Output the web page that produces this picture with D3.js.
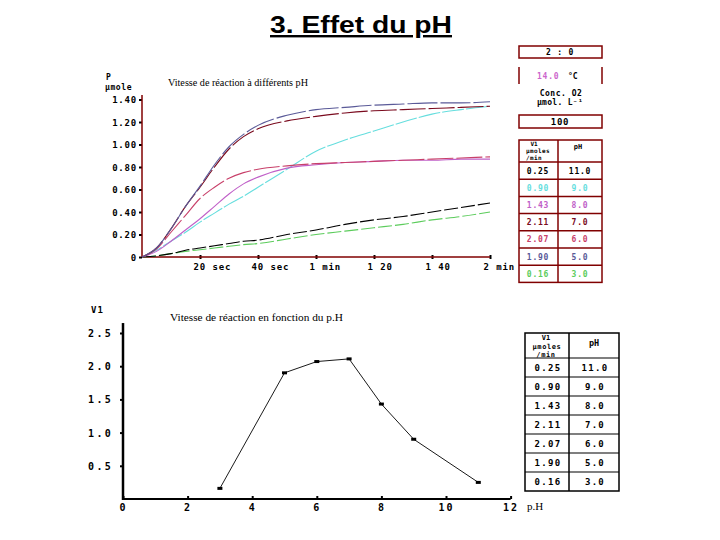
<!DOCTYPE html>
<html>
<head>
<meta charset="utf-8">
<script src="https://cdn.jsdelivr.net/npm/d3@7/dist/d3.min.js"></script>
<style>
  body { margin: 0; background: #fff; }
  .mono { font-family: "DejaVu Sans Mono", monospace; font-weight: bold; }
  .serif { font-family: "Liberation Serif", "Times New Roman", serif; }
</style>
</head>
<body>
<div id="chart"></div>
<script>
// ---- data ----
// top chart: time in seconds, product in µmole
var timeSec = [0, 5, 10, 15, 20, 25, 30, 35, 40, 50, 60, 70, 80, 90, 100, 110, 120];
var pH5 = [0, 0.08, 0.25, 0.45, 0.63, 0.82, 0.98, 1.09, 1.17, 1.26, 1.31, 1.33, 1.35, 1.36, 1.37, 1.37, 1.38];
var pH7 = [0, 0.08, 0.25, 0.45, 0.62, 0.80, 0.96, 1.07, 1.14, 1.21, 1.25, 1.28, 1.30, 1.31, 1.32, 1.33, 1.34];
var pH6 = [0, 0.07, 0.22, 0.37, 0.52, 0.62, 0.70, 0.75, 0.78, 0.81, 0.83, 0.84, 0.85, 0.86, 0.87, 0.88, 0.89];
var pH8 = [0, 0.05, 0.14, 0.24, 0.34, 0.45, 0.56, 0.65, 0.71, 0.79, 0.82, 0.84, 0.85, 0.86, 0.86, 0.87, 0.87];
var pH9 = [0, 0.06, 0.14, 0.22, 0.31, 0.39, 0.47, 0.54, 0.62, 0.78, 0.94, 1.04, 1.12, 1.20, 1.27, 1.31, 1.34];
var pH11 = [0, 0.01, 0.03, 0.06, 0.08, 0.10, 0.12, 0.14, 0.15, 0.20, 0.24, 0.29, 0.33, 0.36, 0.40, 0.44, 0.48];
var pH3 = [0, 0.01, 0.03, 0.05, 0.065, 0.08, 0.095, 0.11, 0.12, 0.16, 0.20, 0.23, 0.26, 0.29, 0.33, 0.36, 0.40];

var topYTicks = [0, 0.2, 0.4, 0.6, 0.8, 1.0, 1.2, 1.4];
var topXTicks = [20, 40, 60, 80, 100, 120];
var topXLabels = ["20 sec", "40 sec", "1 min", "1 20", "1 40", "2 min"];

// small tables
var tableVi = ["0.25", "0.90", "1.43", "2.11", "2.07", "1.90", "0.16"];
var tablePH = ["11.0", "9.0", "8.0", "7.0", "6.0", "5.0", "3.0"];
var tableColors = ["#000000", "#66dede", "#c060c8", "#7a0a1e", "#c8406a", "#5a5a98", "#5ccc5c"];

// bottom chart: initial rate vs pH
var phValues = [3, 5, 6, 7, 8, 9, 11];
var viValues = [0.16, 1.90, 2.07, 2.11, 1.43, 0.90, 0.25];
var botXTicks = [0, 2, 4, 6, 8, 10, 12];
var botYTicks = [0.5, 1.0, 1.5, 2.0, 2.5];

var svg = d3.select("#chart").append("svg")
  .attr("width", 720)
  .attr("height", 540);

// page title
svg.append("text")
  .attr("x", 270).attr("y", 33)
  .attr("textLength", 182).attr("lengthAdjust", "spacingAndGlyphs")
  .style("font-family", "Liberation Sans, Arial, sans-serif")
  .style("font-weight", "bold")
  .style("font-size", "24px")
  .style("text-decoration", "underline")
  .text("3. Effet du pH");

// ================= top chart =================
var axisRed = "#800000";
var xTop = d3.scaleLinear().domain([0, 120]).range([142, 490]);
var yTop = d3.scaleLinear().domain([0, 1.4]).range([257, 99.5]);

var topG = svg.append("g");

var yAxisTop = d3.axisLeft(yTop).tickValues(topYTicks).tickSize(3)
  .tickFormat(d => d === 0 ? "0" : d.toFixed(2));
topG.append("g")
  .attr("transform", "translate(142,0)")
  .call(yAxisTop)
  .call(g => g.select(".domain").remove())
  .call(g => g.selectAll("line").attr("stroke", "#000").attr("stroke-width", 2))
  .call(g => g.selectAll("text").attr("class", "mono").attr("x", -5).attr("dy", "0.35em")
    .style("font-size", "9px").style("letter-spacing", "0.8px").attr("fill", "#000"));

var xAxisTop = d3.axisBottom(xTop).tickValues(topXTicks).tickSize(2)
  .tickFormat((d, i) => topXLabels[i]);
topG.append("g")
  .attr("transform", "translate(0,257)")
  .call(xAxisTop)
  .call(g => g.select(".domain").remove())
  .call(g => g.selectAll("line").attr("stroke", "#000").attr("stroke-width", 2).attr("y1", -2))
  .call(g => g.selectAll("text").attr("class", "mono").attr("text-anchor", "start")
    .attr("x", -7).attr("y", 7).attr("dy", "0.71em")
    .style("font-size", "9px").style("letter-spacing", "0.9px").attr("fill", "#000"));

// axis lines in dark red
topG.append("line")
  .attr("x1", xTop(0)).attr("x2", xTop(0))
  .attr("y1", yTop(0)).attr("y2", yTop(1.44))
  .attr("stroke", axisRed).attr("stroke-width", 1.5);
topG.append("line")
  .attr("x1", xTop(0)).attr("x2", xTop(120))
  .attr("y1", yTop(0)).attr("y2", yTop(0))
  .attr("stroke", axisRed).attr("stroke-width", 1.5);

topG.append("text").attr("class", "mono").attr("x", 106).attr("y", 80)
  .style("font-size", "8px").text("P");
topG.append("text").attr("class", "mono").attr("x", 105).attr("y", 90)
  .style("font-size", "8px").style("letter-spacing", "0.6px").text("µmole");

topG.append("text").attr("class", "serif")
  .attr("x", 168).attr("y", 86)
  .attr("textLength", 140).attr("lengthAdjust", "spacingAndGlyphs")
  .style("font-size", "10.5px")
  .text("Vitesse de réaction à différents pH");

var curves = [
  { values: pH3, color: tableColors[6], dash: "14,3" },
  { values: pH11, color: tableColors[0], dash: "14,3" },
  { values: pH9, color: tableColors[1], dash: "22,2" },
  { values: pH8, color: tableColors[2], dash: null },
  { values: pH6, color: tableColors[4], dash: "26,3" },
  { values: pH7, color: tableColors[3], dash: "26,3" },
  { values: pH5, color: tableColors[5], dash: "30,3" }
];

var lineTop = d3.line()
  .x((d, i) => xTop(timeSec[i]))
  .y(d => yTop(d))
  .curve(d3.curveMonotoneX);

topG.selectAll(".curve")
  .data(curves)
  .enter()
  .append("path")
  .attr("class", "curve")
  .attr("d", d => lineTop(d.values))
  .attr("fill", "none")
  .attr("stroke", d => d.color)
  .attr("stroke-width", 1.1)
  .attr("stroke-dasharray", d => d.dash);

// ================= top right panel =================
var panelX0 = 519, panelX1 = 602, panelMid = 558;
var panel = svg.append("g").attr("class", "mono");

panel.append("rect").attr("x", panelX0).attr("y", 46).attr("width", panelX1 - panelX0).attr("height", 12)
  .attr("fill", "none").attr("stroke", axisRed).attr("stroke-width", 1.5);
panel.append("text").attr("x", 560).attr("y", 55).attr("text-anchor", "middle")
  .style("font-size", "8px").style("letter-spacing", "0.8px").text("2 : 0");

panel.append("line").attr("x1", panelX0).attr("x2", panelX0).attr("y1", 67).attr("y2", 84)
  .attr("stroke", axisRed).attr("stroke-width", 1.5);
panel.append("line").attr("x1", panelX1).attr("x2", panelX1).attr("y1", 67).attr("y2", 84)
  .attr("stroke", axisRed).attr("stroke-width", 1.5);
panel.append("text").attr("x", 537).attr("y", 79)
  .style("font-size", "8px").style("letter-spacing", "0.8px").attr("fill", "#cc66cc").text("14.0");
panel.append("text").attr("x", 568).attr("y", 79)
  .style("font-size", "8px").text("°C");

panel.append("text").attr("x", 561).attr("y", 96).attr("text-anchor", "middle")
  .style("font-size", "8px").style("letter-spacing", "0.5px").text("Conc. O2");
panel.append("text").attr("x", 560).attr("y", 105).attr("text-anchor", "middle")
  .style("font-size", "8px").style("letter-spacing", "0.3px").text("µmol. L⁻¹");

panel.append("rect").attr("x", panelX0).attr("y", 115).attr("width", panelX1 - panelX0).attr("height", 13)
  .attr("fill", "none").attr("stroke", axisRed).attr("stroke-width", 1.5);
panel.append("text").attr("x", 560).attr("y", 125).attr("text-anchor", "middle")
  .style("font-size", "9px").style("letter-spacing", "0.8px").text("100");

// top table
var tTop = 140, tHead = 162, tRow = 17.2;
var tBottom = tHead + tRow * tableVi.length;
panel.append("rect").attr("x", panelX0).attr("y", tTop).attr("width", panelX1 - panelX0).attr("height", tBottom - tTop)
  .attr("fill", "none").attr("stroke", axisRed).attr("stroke-width", 1.5);
panel.append("line").attr("x1", panelMid).attr("x2", panelMid).attr("y1", tTop).attr("y2", tBottom)
  .attr("stroke", axisRed).attr("stroke-width", 1.5);
panel.selectAll(".rowline").data(d3.range(tableVi.length)).enter().append("line")
  .attr("x1", panelX0).attr("x2", panelX1)
  .attr("y1", i => tHead + i * tRow).attr("y2", i => tHead + i * tRow)
  .attr("stroke", axisRed).attr("stroke-width", 1.5);

panel.append("text").attr("x", 534).attr("y", 146).attr("text-anchor", "middle").style("font-size", "6px").text("V1");
panel.append("text").attr("x", 538).attr("y", 153).attr("text-anchor", "middle").style("font-size", "6px").style("letter-spacing", "0.4px").text("µmoles");
panel.append("text").attr("x", 534).attr("y", 160).attr("text-anchor", "middle").style("font-size", "6px").style("letter-spacing", "0.4px").text("/min");
panel.append("text").attr("x", 578).attr("y", 149).attr("text-anchor", "middle").style("font-size", "7px").text("pH");

panel.selectAll(".vi").data(tableVi).enter().append("text")
  .attr("x", 538).attr("y", (d, i) => tHead + i * tRow + 11.5)
  .attr("text-anchor", "middle")
  .style("font-size", "8px").style("letter-spacing", "0.8px")
  .attr("fill", (d, i) => tableColors[i])
  .text(d => d);
panel.selectAll(".ph").data(tablePH).enter().append("text")
  .attr("x", 580).attr("y", (d, i) => tHead + i * tRow + 11.5)
  .attr("text-anchor", "middle")
  .style("font-size", "8px").style("letter-spacing", "0.8px")
  .attr("fill", (d, i) => tableColors[i])
  .text(d => d);

// ================= bottom chart =================
var xBot = d3.scaleLinear().domain([0, 12]).range([123, 510.6]);
var yBot = d3.scaleLinear().domain([0, 2.5]).range([499, 333]);
var botG = svg.append("g");

var yAxisBot = d3.axisLeft(yBot).tickValues(botYTicks).tickSize(3).tickFormat(d3.format(".1f"));
botG.append("g")
  .attr("transform", "translate(123,0)")
  .call(yAxisBot)
  .call(g => g.select(".domain").remove())
  .call(g => g.selectAll("line").attr("stroke", "#000").attr("stroke-width", 2))
  .call(g => g.selectAll("text").attr("class", "mono").attr("text-anchor", "start").attr("x", -35).attr("dy", "0.35em")
    .style("font-size", "10px").style("letter-spacing", "2.4px").attr("fill", "#000"));

var xAxisBot = d3.axisBottom(xBot).tickValues(botXTicks).tickSize(3).tickFormat(d3.format("d"));
botG.append("g")
  .attr("transform", "translate(0,499)")
  .call(xAxisBot)
  .call(g => g.select(".domain").remove())
  .call(g => g.selectAll("line").attr("stroke", "#000").attr("stroke-width", 2).attr("y1", -3).attr("y2", 0))
  .call(g => g.selectAll("text").attr("class", "mono").attr("y", 5).attr("dy", "0.71em")
    .style("font-size", "10px").style("letter-spacing", "2px").attr("fill", "#000"));

botG.append("line")
  .attr("x1", xBot(0)).attr("x2", xBot(0))
  .attr("y1", yBot(0) + 1).attr("y2", yBot(2.65))
  .attr("stroke", "#000").attr("stroke-width", 2.5);
botG.append("line")
  .attr("x1", xBot(0)).attr("x2", xBot(12))
  .attr("y1", yBot(0)).attr("y2", yBot(0))
  .attr("stroke", "#000").attr("stroke-width", 2);

botG.append("text").attr("class", "mono").attr("x", 91).attr("y", 313)
  .style("font-size", "9px").style("letter-spacing", "1px").text("V1");
botG.append("text").attr("class", "serif").attr("x", 527).attr("y", 510)
  .style("font-size", "11px").text("p.H");
botG.append("text").attr("class", "serif")
  .attr("x", 170).attr("y", 321)
  .attr("textLength", 173).attr("lengthAdjust", "spacingAndGlyphs")
  .style("font-size", "11px")
  .text("Vitesse de réaction en fonction du p.H");

var lineBot = d3.line()
  .x((d, i) => xBot(phValues[i]))
  .y(d => yBot(d));

botG.append("path")
  .attr("d", lineBot(viValues))
  .attr("fill", "none")
  .attr("stroke", "#000")
  .attr("stroke-width", 0.9);

botG.selectAll(".pt").data(viValues).enter().append("rect")
  .attr("x", (d, i) => xBot(phValues[i]) - 2.5)
  .attr("y", d => yBot(d) - 1.5)
  .attr("width", 5).attr("height", 3)
  .attr("fill", "#000");

// bottom table
var bx0 = 525, bx1 = 619, bMid = 569, bTop = 333, bHead = 358, bRow = 19;
var bBottom = bHead + bRow * tableVi.length;
var tbl = svg.append("g").attr("class", "mono");
tbl.append("rect").attr("x", bx0).attr("y", bTop).attr("width", bx1 - bx0).attr("height", bBottom - bTop)
  .attr("fill", "none").attr("stroke", "#000").attr("stroke-width", 1.5);
tbl.append("line").attr("x1", bMid).attr("x2", bMid).attr("y1", bTop).attr("y2", bBottom)
  .attr("stroke", "#000").attr("stroke-width", 1.5);
tbl.selectAll(".rowline").data(d3.range(tableVi.length)).enter().append("line")
  .attr("x1", bx0).attr("x2", bx1)
  .attr("y1", i => bHead + i * bRow).attr("y2", i => bHead + i * bRow)
  .attr("stroke", "#000").attr("stroke-width", 1.2);

tbl.append("text").attr("x", 546).attr("y", 340).attr("text-anchor", "middle").style("font-size", "7px").text("V1");
tbl.append("text").attr("x", 547).attr("y", 348.5).attr("text-anchor", "middle").style("font-size", "7px").style("letter-spacing", "0.6px").text("µmoles");
tbl.append("text").attr("x", 546).attr("y", 357).attr("text-anchor", "middle").style("font-size", "7px").style("letter-spacing", "0.6px").text("/min");
tbl.append("text").attr("x", 594).attr("y", 346).attr("text-anchor", "middle").style("font-size", "8.5px").text("pH");

tbl.selectAll(".vi").data(tableVi).enter().append("text")
  .attr("x", 548).attr("y", (d, i) => bHead + i * bRow + 13)
  .attr("text-anchor", "middle")
  .style("font-size", "9px").style("letter-spacing", "1.3px")
  .text(d => d);
tbl.selectAll(".ph").data(tablePH).enter().append("text")
  .attr("x", 595).attr("y", (d, i) => bHead + i * bRow + 13)
  .attr("text-anchor", "middle")
  .style("font-size", "9px").style("letter-spacing", "1.3px")
  .text(d => d);
</script>
</body>
</html>
